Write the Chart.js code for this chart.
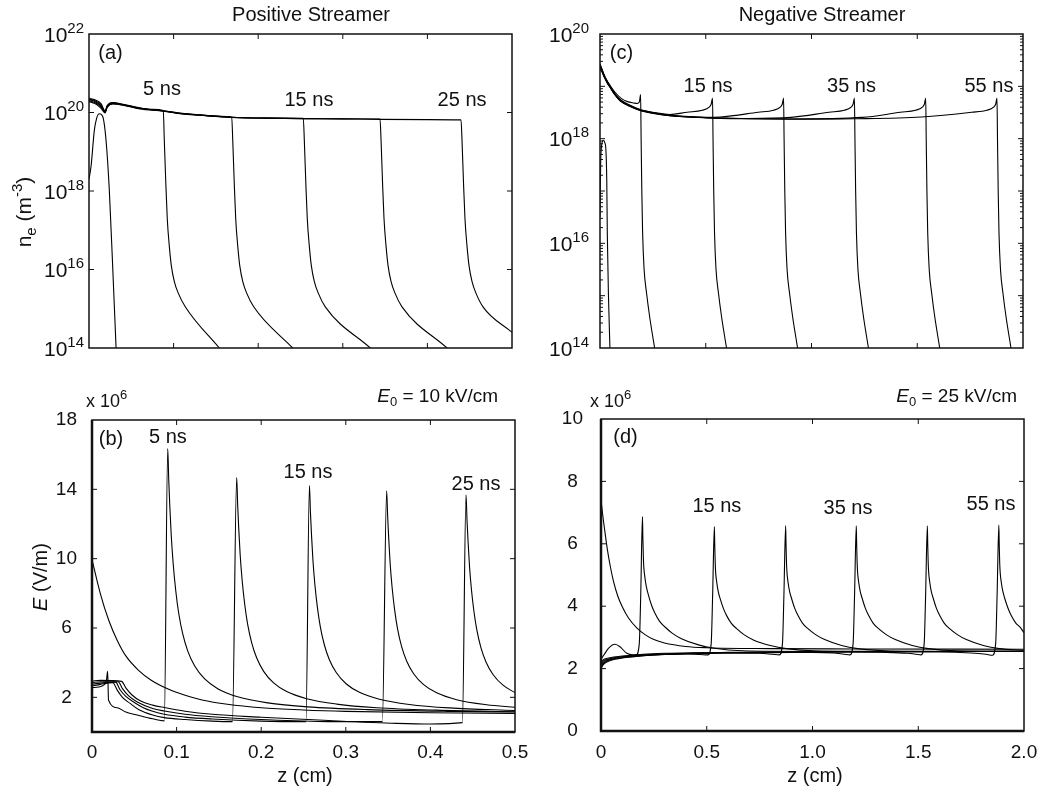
<!DOCTYPE html>
<html><head><meta charset="utf-8">
<script src="https://cdn.jsdelivr.net/npm/chart.js@4.4.1/dist/chart.umd.min.js"></script>
<style>
html,body{margin:0;padding:0;background:#fff;}
#wrap{position:relative;width:1049px;height:793px;background:#fff;}
canvas{position:absolute;left:0;top:0;}
</style></head><body>
<div id="wrap">
<canvas id="ca" width="1049" height="793"></canvas>
<canvas id="cb" width="1049" height="793"></canvas>
<canvas id="cc" width="1049" height="793"></canvas>
<canvas id="cd" width="1049" height="793"></canvas>
</div>
<script>
// ---------- Panel (a): positive streamer, electron density (m^-3) vs z (cm) ----------
const zA0 = [0, 0.0024, 0.0063, 0.009, 0.0122, 0.0162, 0.0201, 0.024, 0.028, 0.032];
const nA0 = [2.0e18, 4.2e18, 3.5e19, 7.1e19, 9.3e19, 7.9e19, 2.0e19, 1.07e18, 1.17e16, 1.0e14];
const zA5 = [0, 0.007, 0.014, 0.019, 0.0215, 0.028, 0.04, 0.06, 0.075, 0.0878, 0.089, 0.0908, 0.0925, 0.0949, 0.0973, 0.1008, 0.1055, 0.1138, 0.154];
const nA5 = [2.3e20, 2.1e20, 1.7e20, 1.1e20, 1.5e20, 1.8e20, 1.62e20, 1.32e20, 1.2e20, 1.12e20, 2.0e19, 1.58e18, 2.0e17, 4.0e16, 1.26e16, 5.0e15, 2.5e15, 1.12e15, 1.0e14];
const zA10 = [0, 0.007, 0.014, 0.019, 0.0215, 0.028, 0.04, 0.06, 0.0878, 0.11, 0.131, 0.155, 0.1687, 0.1699, 0.1717, 0.1734, 0.1758, 0.1782, 0.1817, 0.1864, 0.1947, 0.2408];
const nA10 = [2.2e20, 2.0e20, 1.6e20, 1.07e20, 1.46e20, 1.76e20, 1.6e20, 1.3e20, 1.11e20, 9.5e19, 8.7e19, 8.0e19, 7.6e19, 2.0e19, 1.58e18, 2.0e17, 4.0e16, 1.26e16, 5.0e15, 2.5e15, 1.12e15, 1.0e14];
const zA15 = [0, 0.007, 0.014, 0.019, 0.0215, 0.028, 0.04, 0.06, 0.0878, 0.11, 0.131, 0.1687, 0.21, 0.2533, 0.2545, 0.2563, 0.258, 0.2604, 0.2628, 0.2663, 0.271, 0.2793, 0.3325];
const nA15 = [2.1e20, 1.9e20, 1.5e20, 1.04e20, 1.42e20, 1.72e20, 1.58e20, 1.28e20, 1.1e20, 9.4e19, 8.6e19, 7.6e19, 7.2e19, 7.1e19, 2.0e19, 1.58e18, 2.0e17, 4.0e16, 1.26e16, 5.0e15, 2.5e15, 1.12e15, 1.0e14];
const zA20 = [0, 0.007, 0.014, 0.019, 0.0215, 0.028, 0.04, 0.06, 0.0878, 0.11, 0.131, 0.1687, 0.21, 0.2533, 0.3, 0.344, 0.3452, 0.347, 0.3487, 0.3511, 0.3535, 0.357, 0.3617, 0.37, 0.4232];
const nA20 = [2.0e20, 1.8e20, 1.4e20, 1.01e20, 1.38e20, 1.68e20, 1.56e20, 1.26e20, 1.09e20, 9.3e19, 8.6e19, 7.6e19, 7.2e19, 7.0e19, 6.9e19, 6.8e19, 2.0e19, 1.58e18, 2.0e17, 4.0e16, 1.26e16, 5.0e15, 2.5e15, 1.12e15, 1.0e14];
const zA25 = [0, 0.007, 0.014, 0.019, 0.0215, 0.028, 0.04, 0.06, 0.0878, 0.11, 0.131, 0.1687, 0.21, 0.2533, 0.3, 0.344, 0.4, 0.4397, 0.4409, 0.4427, 0.4444, 0.4468, 0.4492, 0.4527, 0.4574, 0.4657, 0.5];
const nA25 = [1.9e20, 1.7e20, 1.3e20, 0.98e20, 1.34e20, 1.64e20, 1.54e20, 1.24e20, 1.08e20, 9.2e19, 8.5e19, 7.5e19, 7.2e19, 7.0e19, 6.9e19, 6.7e19, 6.6e19, 6.5e19, 2.0e19, 1.58e18, 2.0e17, 4.0e16, 1.26e16, 5.0e15, 2.5e15, 1.12e15, 2.5e14];

// ---------- Panel (b): positive streamer, E (x10^6 V/m) ----------
const zB0 = [0, 0.01, 0.02, 0.03, 0.04, 0.055, 0.07, 0.09, 0.11, 0.13, 0.16, 0.2, 0.25, 0.3, 0.4, 0.5];
const EB0 = [9.94, 7.96, 6.42, 5.27, 4.39, 3.56, 2.99, 2.48, 2.12, 1.85, 1.6, 1.4, 1.27, 1.19, 1.11, 1.07];
const zB5 = [0, 0.008, 0.014, 0.017, 0.0185, 0.0195, 0.03, 0.04, 0.052, 0.0717, 0.0855, 0.0895, 0.0907, 0.0919, 0.0936, 0.096, 0.099, 0.1025, 0.1072, 0.1131, 0.1214, 0.1332, 0.1486, 0.1722, 0.2077, 0.255, 0.3259, 0.4205, 0.5];
const EB5 = [2.56, 2.6, 2.72, 2.95, 3.5, 1.85, 1.4, 1.15, 1.0, 0.76, 0.64, 16.35, 14.55, 13.11, 11.39, 9.69, 8.15, 6.85, 5.67, 4.68, 3.81, 3.06, 2.5, 2.03, 1.68, 1.45, 1.29, 1.19, 1.15];
const zB10 = [0, 0.01, 0.0245, 0.03, 0.036, 0.045, 0.055, 0.0717, 0.0855, 0.11, 0.142, 0.166, 0.171, 0.1722, 0.1734, 0.1751, 0.1775, 0.1805, 0.184, 0.1887, 0.1946, 0.2029, 0.2147, 0.2301, 0.2537, 0.2892, 0.3365, 0.4074, 0.5];
const EB10 = [2.65, 2.75, 2.85, 2.4, 2.0, 1.65, 1.3, 0.98, 0.83, 0.72, 0.63, 0.6, 14.68, 13.08, 11.79, 10.26, 8.74, 7.37, 6.21, 5.16, 4.28, 3.5, 2.83, 2.33, 1.92, 1.61, 1.4, 1.26, 1.17];
const zB15 = [0, 0.01, 0.028, 0.033, 0.04, 0.05, 0.06, 0.0717, 0.0855, 0.11, 0.142, 0.2, 0.2529, 0.257, 0.2582, 0.2594, 0.2611, 0.2635, 0.2665, 0.27, 0.2747, 0.2806, 0.2889, 0.3007, 0.3161, 0.3397, 0.3752, 0.4225, 0.5];
const EB15 = [2.75, 2.82, 2.88, 2.45, 2.05, 1.7, 1.42, 1.2, 1.02, 0.86, 0.75, 0.63, 0.6, 14.22, 12.67, 11.43, 9.95, 8.48, 7.16, 6.04, 5.02, 4.17, 3.42, 2.77, 2.29, 1.89, 1.59, 1.39, 1.24];
const zB20 = [0, 0.01, 0.031, 0.036, 0.043, 0.053, 0.0717, 0.0855, 0.11, 0.142, 0.2, 0.28, 0.3432, 0.3483, 0.3495, 0.3507, 0.3524, 0.3548, 0.3578, 0.3613, 0.366, 0.3719, 0.3802, 0.392, 0.4074, 0.431, 0.4665, 0.5];
const EB20 = [2.85, 2.9, 2.9, 2.5, 2.1, 1.75, 1.36, 1.21, 1.02, 0.88, 0.72, 0.6, 0.6, 13.91, 12.4, 11.19, 9.74, 8.31, 7.02, 5.92, 4.92, 4.1, 3.36, 2.73, 2.26, 1.86, 1.57, 1.43];
const zB25 = [0, 0.01, 0.035, 0.04, 0.047, 0.057, 0.0717, 0.0855, 0.11, 0.142, 0.2, 0.28, 0.36, 0.4, 0.4378, 0.4421, 0.4433, 0.4445, 0.4462, 0.4486, 0.4516, 0.4551, 0.4598, 0.4657, 0.474, 0.4858, 0.5];
const EB25 = [2.94, 2.98, 2.92, 2.55, 2.15, 1.8, 1.55, 1.41, 1.2, 1.02, 0.85, 0.66, 0.5, 0.46, 0.54, 13.68, 12.2, 11.0, 9.58, 8.18, 6.91, 5.83, 4.85, 4.04, 3.32, 2.7, 2.27];

// ---------- Panel (c): negative streamer, electron density ----------
const zC0 = [0, 0.003, 0.007, 0.012, 0.0156, 0.022, 0.028, 0.032, 0.0345, 0.04, 0.047];
const nC0 = [3.2e16, 3.2e17, 7.1e17, 8.9e17, 9.3e17, 8.5e17, 6.0e17, 1.58e17, 1.58e16, 1.0e15, 1.0e14];
const zC5 = [0, 0.01, 0.02, 0.035, 0.047, 0.07, 0.1, 0.13, 0.16, 0.176, 0.186, 0.192, 0.1944, 0.1977, 0.2015, 0.2085, 0.2204, 0.2346, 0.2582];
const nC5 = [2.7e19, 2.1e19, 1.65e19, 1.25e19, 1.05e19, 7.8e18, 5.9e18, 5.1e18, 4.8e18, 4.7e18, 5.0e18, 7.0e18, 1.0e18, 1.0e17, 1.58e16, 3.2e15, 1.1e15, 4.0e14, 1.0e14];
const zC15 = [0, 0.01, 0.02, 0.035, 0.047, 0.07, 0.095, 0.14, 0.19, 0.26, 0.33, 0.412, 0.484, 0.516, 0.526, 0.532, 0.5344, 0.5377, 0.5415, 0.5485, 0.5604, 0.5746, 0.5982];
const nC15 = [2.6e19, 2.05e19, 1.6e19, 1.22e19, 1.02e19, 7.3e18, 5.6e18, 4.4e18, 3.6e18, 3.15e18, 2.9e18, 3.2e18, 3.5e18, 4.0e18, 4.6e18, 6.0e18, 1.0e18, 1.0e17, 1.58e16, 3.2e15, 1.1e15, 4.0e14, 1.0e14];
const zC25 = [0, 0.01, 0.02, 0.035, 0.047, 0.07, 0.095, 0.14, 0.19, 0.26, 0.33, 0.5, 0.568, 0.748, 0.82, 0.852, 0.862, 0.868, 0.8704, 0.8737, 0.8775, 0.8845, 0.8964, 0.9106, 0.9342];
const nC25 = [2.5e19, 2.0e19, 1.58e19, 1.2e19, 1.0e19, 7.2e18, 5.5e18, 4.3e18, 3.55e18, 3.1e18, 2.82e18, 2.57e18, 2.6e18, 3.2e18, 3.5e18, 4.0e18, 4.6e18, 6.0e18, 1.0e18, 1.0e17, 1.58e16, 3.2e15, 1.1e15, 4.0e14, 1.0e14];
const zC35 = [0, 0.01, 0.02, 0.035, 0.047, 0.07, 0.095, 0.14, 0.19, 0.26, 0.33, 0.5, 0.7, 0.903, 1.083, 1.155, 1.187, 1.197, 1.203, 1.2054, 1.2087, 1.2125, 1.2195, 1.2314, 1.2456, 1.2692];
const nC35 = [2.45e19, 1.95e19, 1.55e19, 1.18e19, 0.98e19, 7.1e18, 5.4e18, 4.25e18, 3.5e18, 3.05e18, 2.78e18, 2.54e18, 2.43e18, 2.55e18, 3.2e18, 3.5e18, 4.0e18, 4.6e18, 6.0e18, 1.0e18, 1.0e17, 1.58e16, 3.2e15, 1.1e15, 4.0e14, 1.0e14];
const zC45 = [0, 0.01, 0.02, 0.035, 0.047, 0.07, 0.095, 0.14, 0.19, 0.26, 0.33, 0.5, 0.7, 0.9, 1.24, 1.42, 1.492, 1.524, 1.534, 1.54, 1.5424, 1.5457, 1.5495, 1.5565, 1.5684, 1.5826, 1.6062];
const nC45 = [2.4e19, 1.9e19, 1.52e19, 1.16e19, 0.97e19, 7.0e18, 5.35e18, 4.2e18, 3.48e18, 3.03e18, 2.76e18, 2.52e18, 2.42e18, 2.38e18, 2.55e18, 3.2e18, 3.5e18, 4.0e18, 4.6e18, 6.0e18, 1.0e18, 1.0e17, 1.58e16, 3.2e15, 1.1e15, 4.0e14, 1.0e14];
const zC55 = [0, 0.01, 0.02, 0.035, 0.047, 0.07, 0.095, 0.14, 0.19, 0.26, 0.33, 0.5, 0.7, 0.9, 1.2, 1.52, 1.757, 1.829, 1.861, 1.871, 1.877, 1.8794, 1.8827, 1.8865, 1.8935, 1.9054, 1.9196, 1.9432];
const nC55 = [2.35e19, 1.88e19, 1.5e19, 1.14e19, 0.96e19, 6.9e18, 5.3e18, 4.15e18, 3.45e18, 3.0e18, 2.74e18, 2.5e18, 2.4e18, 2.36e18, 2.4e18, 2.6e18, 3.2e18, 3.5e18, 4.0e18, 4.6e18, 6.0e18, 1.0e18, 1.0e17, 1.58e16, 3.2e15, 1.1e15, 4.0e14, 1.0e14];

// ---------- Panel (d): negative streamer, E (x10^6 V/m) ----------
const zD0 = [0, 0.01, 0.02, 0.03, 0.045, 0.06, 0.08, 0.1, 0.13, 0.17, 0.21, 0.25, 0.3, 0.4, 0.5, 0.8, 1.2, 2.0];
const ED0 = [7.4, 6.82, 6.31, 5.82, 5.24, 4.77, 4.31, 3.99, 3.62, 3.3, 3.08, 2.93, 2.82, 2.71, 2.67, 2.64, 2.63, 2.62];
const zD5 = [0, 0.015, 0.035, 0.066, 0.09, 0.12, 0.15, 0.166, 0.181, 0.188, 0.196, 0.1979, 0.2007, 0.2078, 0.2149, 0.223, 0.2386, 0.2546, 0.2764, 0.3, 0.3378, 0.3804, 0.4608, 0.5364, 0.6688, 1.0, 2.0];
const ED5 = [2.3, 2.45, 2.65, 2.78, 2.7, 2.5, 2.44, 2.44, 2.8, 4.4, 6.87, 6.22, 5.48, 4.91, 4.61, 4.39, 4.04, 3.78, 3.52, 3.35, 3.13, 2.96, 2.76, 2.65, 2.57, 2.55, 2.56];
const zD15 = [0, 0.01, 0.03, 0.06, 0.1, 0.15, 0.2, 0.3, 0.4, 0.47, 0.506, 0.521, 0.528, 0.536, 0.5379, 0.5407, 0.5478, 0.5549, 0.563, 0.5786, 0.5946, 0.6164, 0.64, 0.6778, 0.7204, 0.8008, 0.8764, 1.0088, 1.4, 2.0];
const ED15 = [2.05, 2.15, 2.25, 2.31, 2.35, 2.38, 2.41, 2.45, 2.47, 2.45, 2.44, 2.8, 4.4, 6.55, 5.95, 5.26, 4.74, 4.45, 4.25, 3.93, 3.69, 3.45, 3.29, 3.08, 2.92, 2.74, 2.64, 2.57, 2.55, 2.55];
const zD25 = [0, 0.01, 0.03, 0.06, 0.1, 0.15, 0.2, 0.3, 0.45, 0.6, 0.75, 0.81, 0.843, 0.858, 0.865, 0.873, 0.8749, 0.8777, 0.8848, 0.8919, 0.9, 0.9156, 0.9316, 0.9534, 0.977, 1.0148, 1.0574, 1.1378, 1.2134, 1.3458, 1.6, 2.0];
const ED25 = [2.1, 2.2, 2.28, 2.33, 2.37, 2.4, 2.43, 2.46, 2.49, 2.5, 2.49, 2.46, 2.44, 2.8, 4.4, 6.58, 5.97, 5.28, 4.75, 4.47, 4.27, 3.94, 3.7, 3.45, 3.29, 3.09, 2.93, 2.74, 2.64, 2.57, 2.55, 2.55];
const zD35 = [0, 0.01, 0.03, 0.06, 0.1, 0.15, 0.2, 0.3, 0.45, 0.6, 0.8, 1.0, 1.1, 1.15, 1.177, 1.192, 1.199, 1.207, 1.2089, 1.2117, 1.2188, 1.2259, 1.234, 1.2496, 1.2656, 1.2874, 1.311, 1.3488, 1.3914, 1.4718, 1.5474, 1.6798, 2.0];
const ED35 = [2.15, 2.24, 2.3, 2.35, 2.38, 2.41, 2.44, 2.47, 2.5, 2.51, 2.52, 2.52, 2.5, 2.46, 2.44, 2.8, 4.4, 6.58, 5.97, 5.28, 4.75, 4.47, 4.27, 3.94, 3.7, 3.45, 3.29, 3.09, 2.93, 2.74, 2.64, 2.57, 2.55];
const zD45 = [0, 0.01, 0.03, 0.06, 0.1, 0.15, 0.2, 0.3, 0.45, 0.6, 0.8, 1.0, 1.2, 1.35, 1.45, 1.49, 1.513, 1.528, 1.535, 1.543, 1.5449, 1.5477, 1.5548, 1.5619, 1.57, 1.5856, 1.6016, 1.6234, 1.647, 1.6848, 1.7274, 1.8078, 1.8834, 2.0];
const ED45 = [2.2, 2.28, 2.33, 2.37, 2.4, 2.43, 2.46, 2.49, 2.51, 2.52, 2.53, 2.53, 2.53, 2.52, 2.49, 2.46, 2.44, 2.8, 4.4, 6.58, 5.97, 5.28, 4.75, 4.47, 4.27, 3.94, 3.7, 3.45, 3.29, 3.09, 2.93, 2.74, 2.64, 2.58];
const zD55 = [0, 0.01, 0.03, 0.06, 0.1, 0.15, 0.2, 0.3, 0.45, 0.6, 0.8, 1.0, 1.2, 1.4, 1.6, 1.75, 1.82, 1.851, 1.866, 1.873, 1.881, 1.8829, 1.8857, 1.8928, 1.8999, 1.908, 1.9236, 1.9396, 1.9614, 1.985, 2.0];
const ED55 = [2.0, 2.12, 2.22, 2.29, 2.34, 2.38, 2.41, 2.45, 2.48, 2.5, 2.51, 2.52, 2.53, 2.53, 2.53, 2.5, 2.46, 2.43, 2.8, 4.4, 6.6, 5.99, 5.29, 4.76, 4.48, 4.27, 3.95, 3.7, 3.46, 3.3, 3.15];

// ---------- ticks and labels ----------
const xTicksA = [0.1, 0.2, 0.3, 0.4];
const yTicksA = [1e16, 1e18, 1e20];
const yLogLabelsA = [1e14, 1e16, 1e18, 1e20, 1e22];
const xTicksB = [0, 0.1, 0.2, 0.3, 0.4, 0.5];
const xLabelsB = ['0', '0.1', '0.2', '0.3', '0.4', '0.5'];
const yTicksB = [2, 6, 10, 14, 18];
const yLabelsB = ['2', '6', '10', '14', '18'];
const xTicksC = [0.5, 1.0, 1.5];
const yTicksC = [1e15, 1e16, 1e17, 1e18, 1e19];
const yLogLabelsC = [1e14, 1e16, 1e18, 1e20];
const xTicksD = [0, 0.5, 1.0, 1.5, 2.0];
const xLabelsD = ['0', '0.5', '1.0', '1.5', '2.0'];
const yTicksD = [0, 2, 4, 6, 8, 10];
const yLabelsD = ['0', '2', '4', '6', '8', '10'];
const timeLabelsA = [['(a)', 0.0254, 3.5e21], ['5 ns', 0.0863, 4.2e20], ['15 ns', 0.26, 2.3e20], ['25 ns', 0.441, 2.3e20]];
const timeLabelsB = [['(b)', 0.0225, 16.97], ['5 ns', 0.0898, 17.08], ['15 ns', 0.2553, 15.06], ['25 ns', 0.4539, 14.37]];
const timeLabelsC = [['(c)', 0.1017, 4.5e19], ['15 ns', 0.511, 1.08e19], ['35 ns', 1.189, 1.08e19], ['55 ns', 1.839, 1.08e19]];
const timeLabelsD = [['(d)', 0.116, 9.46], ['15 ns', 0.548, 7.24], ['35 ns', 1.168, 7.18], ['55 ns', 1.844, 7.31]];

// ---------- drawing ----------
const FONT = "'Liberation Sans', Arial, Helvetica, sans-serif";
Chart.defaults.font.family = FONT;
Chart.defaults.color = '#111';

const series = (zs, vs) => ({
  data: zs.map((z, i) => ({x: z, y: vs[i]})),
  borderColor: '#000', borderWidth: 1.1, pointRadius: 0, fill: false,
  cubicInterpolationMode: 'monotone'
});

function fnt(p) { return (p.it ? 'italic ' : '') + p.s + 'px ' + FONT; }
function rich(ctx, parts, x, y, align) {
  let w = 0;
  parts.forEach(p => { ctx.font = fnt(p); p.w = ctx.measureText(p.t).width; w += p.w; });
  let cx = align === 'center' ? x - w / 2 : (align === 'right' ? x - w : x);
  ctx.textAlign = 'left'; ctx.textBaseline = 'alphabetic';
  parts.forEach(p => { ctx.font = fnt(p); ctx.fillText(p.t, cx, y + (p.dy || 0)); cx += p.w; });
}

const deco = {
  id: 'deco',
  afterDraw(chart, args, o) {
    const ctx = chart.ctx, a = chart.chartArea, xs = chart.scales.x, ys = chart.scales.y;
    ctx.save();
    ctx.strokeStyle = '#111'; ctx.fillStyle = '#111';
    ctx.lineWidth = 1;
    ctx.beginPath();
    const tl = o.tl || 5;
    (o.xt || []).forEach(v => {
      const p = xs.getPixelForValue(v);
      ctx.moveTo(p, a.bottom); ctx.lineTo(p, a.bottom - tl);
      ctx.moveTo(p, a.top); ctx.lineTo(p, a.top + tl);
    });
    (o.yt || []).forEach(v => {
      const p = ys.getPixelForValue(v);
      ctx.moveTo(a.left, p); ctx.lineTo(a.left + tl, p);
      ctx.moveTo(a.right, p); ctx.lineTo(a.right - tl, p);
    });
    (o.ym || []).forEach(v => {
      const p = ys.getPixelForValue(v);
      ctx.moveTo(a.left, p); ctx.lineTo(a.left + 3, p);
      ctx.moveTo(a.right, p); ctx.lineTo(a.right - 3, p);
    });
    ctx.stroke();
    ctx.lineWidth = o.fw || 1.5;
    ctx.strokeRect(a.left, a.top, a.right - a.left, a.bottom - a.top);
    if (o.thick) {
      ctx.lineWidth = 2.5;
      ctx.beginPath();
      ctx.moveTo(a.left, a.top); ctx.lineTo(a.left, a.bottom); ctx.lineTo(a.right, a.bottom);
      ctx.stroke();
    }
    (o.logLabels || []).forEach(v => {
      const p = ys.getPixelForValue(v);
      const e = String(Math.round(Math.log10(v)));
      rich(ctx, [{t: '10', s: 21}, {t: e, s: 15, dy: -9}], o.logX, p + 7.6, 'center');
    });
    (o.timeLabels || []).forEach(t => {
      rich(ctx, [{t: t[0], s: 20}], xs.getPixelForValue(t[1]), ys.getPixelForValue(t[2]) + 7.2, 'center');
    });
    (o.texts || []).forEach(t => {
      const ms = t.ms || 20;
      if (t.rot) {
        ctx.save(); ctx.translate(t.x, t.y); ctx.rotate(-Math.PI / 2);
        rich(ctx, t.parts, 0, 0.33 * ms, 'center');
        ctx.restore();
      } else {
        rich(ctx, t.parts, t.x, t.y + 0.36 * ms, t.align || 'center');
      }
    });
    ctx.restore();
  }
};
Chart.register(deco);

const hid = {display: false, drawTicks: false};
function xAxis(min, max, ticks, labels, pad) {
  const ax = {type: 'linear', min, max, grid: hid, border: {display: false},
    afterFit: s => { s.height = 40; }};
  if (labels) {
    ax.afterBuildTicks = s => { s.ticks = ticks.map(v => ({value: v})); };
    ax.ticks = {autoSkip: false, maxRotation: 0, minRotation: 0, padding: pad, font: {size: 19}, color: '#111',
      callback: (v, i) => labels[i]};
  } else {
    ax.ticks = {display: false};
  }
  return ax;
}
function yLin(min, max, ticks, labels, pad) {
  return {type: 'linear', min, max, grid: hid, border: {display: false},
    afterFit: s => { s.width = 60; },
    afterBuildTicks: s => { s.ticks = ticks.map(v => ({value: v})); },
    ticks: {autoSkip: false, crossAlign: 'center', padding: pad, font: {size: 19}, color: '#111',
      callback: (v, i) => labels[i]}};
}
function yLog(min, max) {
  return {type: 'logarithmic', min, max, grid: hid, border: {display: false},
    afterFit: s => { s.width = 60; }, ticks: {display: false}};
}
function make(id, sets, x, y, pad, d) {
  return new Chart(document.getElementById(id), {
    type: 'line',
    data: {datasets: sets},
    options: {
      responsive: false, animation: false, events: [], devicePixelRatio: 1,
      layout: {padding: pad},
      plugins: {legend: {display: false}, tooltip: {enabled: false}, deco: d},
      scales: {x, y}
    }
  });
}

const minorC = [];
for (let k = 14; k < 20; k++) for (let m = 2; m <= 9; m++) minorC.push(m * Math.pow(10, k));

make('ca',
  [series(zA0, nA0), series(zA5, nA5), series(zA10, nA10), series(zA15, nA15), series(zA20, nA20), series(zA25, nA25)],
  xAxis(0, 0.5, null, null, 0), yLog(1e14, 1e22),
  {left: 29, top: 34, right: 537, bottom: 405},
  {xt: xTicksA, yt: yTicksA, logLabels: yLogLabelsA, logX: 64, timeLabels: timeLabelsA,
   texts: [
     {parts: [{t: 'Positive Streamer', s: 20}], x: 311, y: 14},
     {rot: true, ms: 21, x: 24, y: 212, parts: [{t: 'n', s: 21}, {t: 'e', s: 15, dy: 5}, {t: ' (m', s: 21}, {t: '-3', s: 15, dy: -9}, {t: ')', s: 21}]}
   ]});

make('cb',
  [series(zB0, EB0), series(zB5, EB5), series(zB10, EB10), series(zB15, EB15), series(zB20, EB20), series(zB25, EB25)],
  xAxis(0, 0.5, xTicksB, xLabelsB, 9), yLin(0, 18, yTicksB, yLabelsB, 15),
  {left: 32, top: 420, right: 534, bottom: 21},
  {xt: xTicksB.slice(1, 5), yt: yTicksB.slice(0, 4), timeLabels: timeLabelsB, thick: true,
   texts: [
     {parts: [{t: 'x 10', s: 18}, {t: '6', s: 13, dy: -8}], x: 86, y: 401, align: 'left', ms: 18},
     {parts: [{t: 'E', s: 19, it: true}, {t: '0', s: 13, dy: 4}, {t: ' = 10 kV/cm', s: 19}], x: 498, y: 395, align: 'right', ms: 19},
     {rot: true, ms: 20, x: 40, y: 577, parts: [{t: 'E', s: 20, it: true}, {t: ' (V/m)', s: 20}]},
     {parts: [{t: 'z (cm)', s: 20}], x: 305, y: 775}
   ]});

make('cc',
  [series(zC0, nC0), series(zC5, nC5), series(zC15, nC15), series(zC25, nC25), series(zC35, nC35), series(zC45, nC45), series(zC55, nC55)],
  xAxis(0, 2, null, null, 0), yLog(1e14, 1e20),
  {left: 540, top: 34, right: 26, bottom: 405},
  {xt: xTicksC, yt: yTicksC, ym: minorC, logLabels: yLogLabelsC, logX: 569, timeLabels: timeLabelsC,
   texts: [
     {parts: [{t: 'Negative Streamer', s: 20}], x: 822, y: 14}
   ]});

make('cd',
  [series(zD0, ED0), series(zD5, ED5), series(zD15, ED15), series(zD25, ED25), series(zD35, ED35), series(zD45, ED45), series(zD55, ED55)],
  xAxis(0, 2, xTicksD, xLabelsD, 10), yLin(0, 10, yTicksD, yLabelsD, 18),
  {left: 541, top: 419, right: 25, bottom: 22},
  {xt: xTicksD.slice(1, 4), yt: yTicksD.slice(1, 5), timeLabels: timeLabelsD, thick: true,
   texts: [
     {parts: [{t: 'x 10', s: 18}, {t: '6', s: 13, dy: -8}], x: 590, y: 401, align: 'left', ms: 18},
     {parts: [{t: 'E', s: 19, it: true}, {t: '0', s: 13, dy: 4}, {t: ' = 25 kV/cm', s: 19}], x: 1017, y: 395, align: 'right', ms: 19},
     {parts: [{t: 'z (cm)', s: 20}], x: 815, y: 775}
   ]});
</script>
</body></html>
